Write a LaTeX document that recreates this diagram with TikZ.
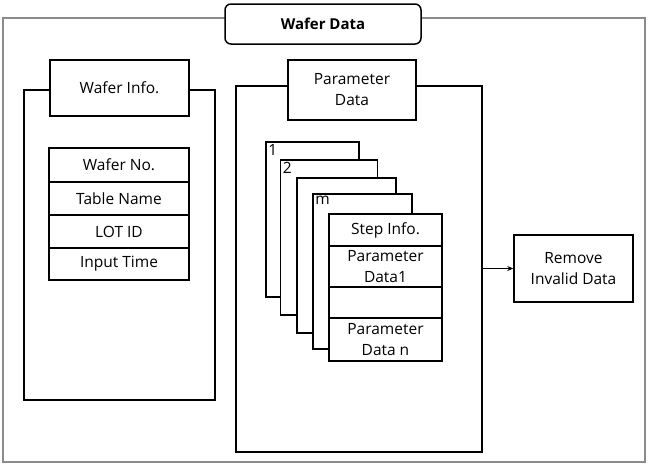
\documentclass[tikz,border=0pt]{standalone}
\usepackage{fontspec}
\setmainfont{Open Sans}
\usetikzlibrary{arrows.meta}

\begin{document}
\begin{tikzpicture}[x=1pt,y=-1pt,
            frame/.style={draw=black!45,line width=1.2pt,minimum width=642pt,minimum height=444pt},
            box/.style={draw,fill=white,line width=1.5pt,inner sep=0pt,align=center,font=\fontsize{15.5}{21}\selectfont},
            cell/.style={box,minimum width=140pt},
            sheet/.style={box,minimum width=#1,minimum height=155pt},
            num/.style={anchor=north west,inner sep=3pt,font=\fontsize{15.5}{17}\selectfont},
            ]
            \useasboundingbox (0,0) rectangle (648,466);

            % outer frame and title
            \node[frame] (frame) at (324,240) {};
            \node[box, rounded corners=6pt, minimum width=196pt, minimum height=40pt, font=\fontsize{15}{17}\selectfont\bfseries] (title) at (323,24) {Wafer Data};

            % wafer info
            \node[box, fill=none, minimum width=191pt, minimum height=310pt] (infosec) at (119.5,245) {};
            \node[box, minimum width=139pt, minimum height=56pt] (infohead) at (119.5,88) {Wafer Info.};
            \node[cell, minimum height=34pt] (waferno) at (119,165) {Wafer No.};
            \node[cell, minimum height=33pt] (tablename) at (119,198.5) {Table Name};
            \node[cell, minimum height=33pt] (lotid) at (119,231.5) {LOT ID};
            \node[cell, minimum height=32pt] (inputtime) at (119,264) {Input Time};

            % parameter data
            \node[box, fill=none, minimum width=246pt, minimum height=366pt] (paramsec) at (359,269) {};
            \node[box, minimum width=128pt, minimum height=60pt] (paramhead) at (352,90) {Parameter\\Data};

            \node[sheet=93pt] (p1) at (312.5,219.5) {};
            \node[num] at (p1.north west) {1};
            \node[sheet=97pt] (p2) at (329,237.5) {};
            \node[num] at (p2.north west) {2};
            \node[sheet=99pt] (p3) at (346.5,255.5) {};
            \node[sheet=99pt] (p4) at (362.5,271.5) {};
            \node[num] at (p4.north west) {m};

            \node[box, minimum width=113pt, minimum height=32pt] (stepinfo) at (385.5,230) {Step Info.};
            \node[box, minimum width=113pt, minimum height=41pt] (pdata1) at (385.5,266.5) {Parameter\\Data1};
            \node[box, minimum width=113pt, minimum height=31pt] (blank) at (385.5,302.5) {};
            \node[box, minimum width=113pt, minimum height=43pt] (pdatan) at (385.5,339.5) {Parameter\\Data n};

            % output
            \node[box, minimum width=119pt, minimum height=67pt] (remove) at (573.5,268.5) {Remove\\Invalid Data};
            \draw[line width=1pt, -{Stealth[length=6pt,width=5pt]}] (paramsec.east |- remove.west) -- (remove.west);
        \end{tikzpicture}
\end{document}
